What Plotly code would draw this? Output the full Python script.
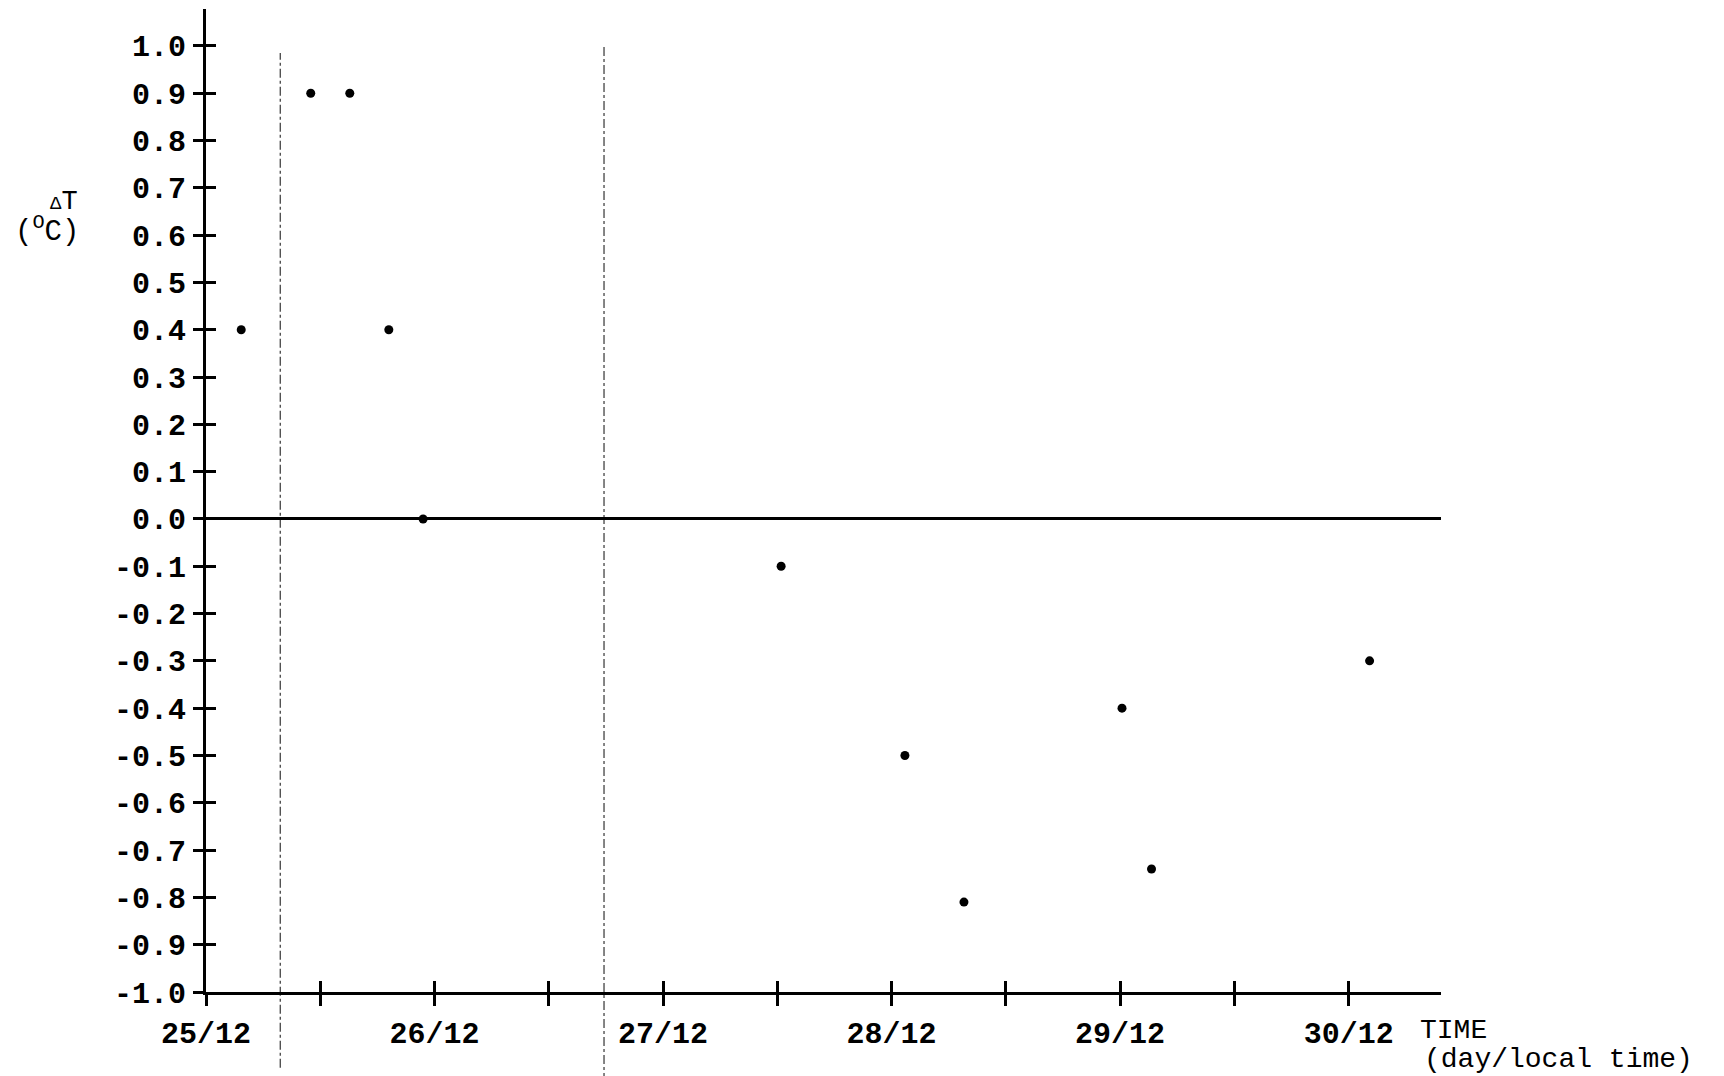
import plotly.graph_objects as go

# ---- data ----
time_hours = [3.7, 11.0, 15.1, 19.2, 22.8, 60.4, 73.4, 79.6, 96.2, 99.3, 122.2]  # hours after 25/12 00:00
delta_t = [0.4, 0.9, 0.9, 0.4, 0.0, -0.1, -0.5, -0.81, -0.4, -0.74, -0.3]

day_tick_hours = [0, 24, 48, 72, 96, 120]
day_tick_text = ["25/12", "26/12", "27/12", "28/12", "29/12", "30/12"]
half_day_tick_hours = [0, 12, 24, 36, 48, 60, 72, 84, 96, 108, 120]

y_tick_vals = [1.0, 0.9, 0.8, 0.7, 0.6, 0.5, 0.4, 0.3, 0.2, 0.1, 0.0,
               -0.1, -0.2, -0.3, -0.4, -0.5, -0.6, -0.7, -0.8, -0.9, -1.0]
y_tick_text = ["1.0", "0.9", "0.8", "0.7", "0.6", "0.5", "0.4", "0.3", "0.2", "0.1", "0.0",
               "-0.1", "-0.2", "-0.3", "-0.4", "-0.5", "-0.6", "-0.7", "-0.8", "-0.9", "-1.0"]

divider_hours = [7.8, 41.8]
divider_top = [0.985, 1.004]
divider_bottom = [-1.16, -1.19]

X_RANGE = [0, 129.7]
Y_RANGE = [-1.0, 1.078]

FONT = "Liberation Mono"

fig = go.Figure()
fig.add_trace(go.Scatter(
    x=time_hours, y=delta_t, mode="markers",
    marker=dict(color="black", size=9), showlegend=False, hoverinfo="skip"))
# dummy trace for overlay axes (crossing ticks)
fig.add_trace(go.Scatter(x=[None], y=[None], xaxis="x2", yaxis="y2",
                         mode="markers", showlegend=False, hoverinfo="skip"))


def xp(v):
    return (v - X_RANGE[0]) / (X_RANGE[1] - X_RANGE[0])


def yp(v):
    return (v - Y_RANGE[0]) / (Y_RANGE[1] - Y_RANGE[0])


for h, t, b in zip(divider_hours, divider_top, divider_bottom):
    fig.add_shape(type="line", xref="paper", yref="paper",
                  x0=xp(h), x1=xp(h), y0=yp(b), y1=yp(t),
                  line=dict(color="#444444", width=1.3, dash="dashdot"), layer="below")

tickfont = dict(family=FONT, size=30, color="black", weight="bold")

fig.update_layout(
    width=1724, height=1076,
    margin=dict(l=206, r=283, t=9, b=84),
    paper_bgcolor="white", plot_bgcolor="white",
    xaxis=dict(range=X_RANGE, tickmode="array", tickvals=day_tick_hours, ticktext=day_tick_text,
               showgrid=False, zeroline=False, showline=True, linecolor="black", linewidth=3,
               ticks="outside", ticklen=11, tickwidth=2.5, tickcolor="black",
               minor=dict(tickmode="array", tickvals=half_day_tick_hours, ticks="outside",
                          ticklen=11, tickwidth=2.5, tickcolor="black", showgrid=False),
               tickfont=tickfont, ticklabelstandoff=1),
    yaxis=dict(range=Y_RANGE, tickmode="array", tickvals=y_tick_vals, ticktext=y_tick_text,
               showgrid=False, zeroline=True, zerolinecolor="black", zerolinewidth=3,
               showline=True, linecolor="black", linewidth=3,
               ticks="outside", ticklen=10, tickwidth=2.5, tickcolor="black",
               tickfont=tickfont, ticklabelstandoff=1),
    xaxis2=dict(range=X_RANGE, overlaying="x", matches="x", anchor="y2", side="bottom",
                tickmode="array", tickvals=half_day_tick_hours, showticklabels=False,
                showgrid=False, zeroline=False, showline=False,
                ticks="inside", ticklen=11, tickwidth=2.5, tickcolor="black"),
    yaxis2=dict(range=Y_RANGE, overlaying="y", matches="y", anchor="x2", side="left",
                tickmode="array", tickvals=y_tick_vals, showticklabels=False,
                showgrid=False, zeroline=False, showline=False,
                ticks="inside", ticklen=10, tickwidth=2.5, tickcolor="black"),
)

# y-axis title
fig.add_annotation(xref="paper", yref="paper", x=0, y=yp(0.67), xshift=-126,
                   xanchor="right", yanchor="middle", showarrow=False,
                   text="<span style='font-size:19px'>Δ</span>T",
                   font=dict(family=FONT, size=27, color="black"))
fig.add_annotation(xref="paper", yref="paper", x=0, y=yp(0.61), xshift=-125,
                   xanchor="right", yanchor="middle", showarrow=False,
                   text="(<sup>O</sup>C)",
                   font=dict(family=FONT, size=29, color="black"))

# x-axis title
fig.add_annotation(xref="paper", yref="paper", x=1, y=0, xshift=-23, yshift=-38,
                   xanchor="left", yanchor="middle", showarrow=False, height=28,
                   text="TIME", font=dict(family=FONT, size=28, color="black"))
fig.add_annotation(xref="paper", yref="paper", x=1, y=0, xshift=-19, yshift=-67,
                   xanchor="left", yanchor="middle", showarrow=False, height=28,
                   text="(day/local time)", font=dict(family=FONT, size=28, color="black"))

fig.write_html("out.html", config={"displayModeBar": False},
               post_script="document.body.style.margin='0';document.body.style.overflow='hidden';")
